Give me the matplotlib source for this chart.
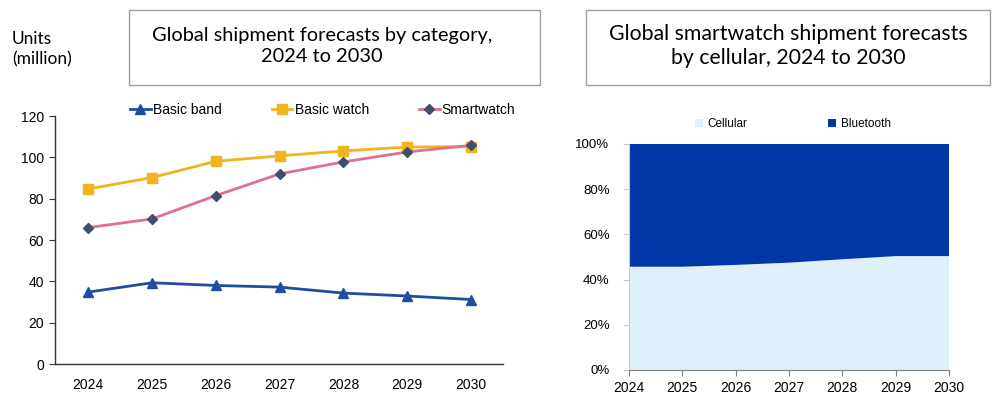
import matplotlib
matplotlib.use("Agg")
import matplotlib.pyplot as plt
from matplotlib.patches import Rectangle
from matplotlib.ticker import PercentFormatter

years = [2024, 2025, 2026, 2027, 2028, 2029, 2030]
basic_band = [34.8, 39.3, 38.0, 37.2, 34.3, 32.9, 31.2]
basic_watch = [84.7, 90.2, 98.1, 100.7, 103.1, 105.0, 105.2]
smartwatch = [66.0, 70.2, 81.5, 92.0, 97.8, 102.6, 105.8]
cellular_share = [45.7, 45.7, 46.5, 47.5, 49.0, 50.4, 50.4]
bluetooth_share = [100 - c for c in cellular_share]

left_title = "Global shipment forecasts by category,\n2024 to 2030"
right_title = "Global smartwatch shipment forecasts\nby cellular, 2024 to 2030"

plt.rcParams['font.family'] = ['Liberation Sans', 'DejaVu Sans']

fig = plt.figure(figsize=(9.92, 3.96), dpi=100)
W, H = 992, 396

def ax_rect(x0, y0, x1, y1):
    return [x0 / W, 1 - y1 / H, (x1 - x0) / W, (y1 - y0) / H]

# ---- Left chart ----
ax1 = fig.add_axes(ax_rect(55, 116, 503, 364))
ax1.plot(years, basic_band, color='#1f4ea0', lw=2, marker='^', ms=7, label='Basic band')
ax1.plot(years, basic_watch, color='#f2b41c', lw=2, marker='s', ms=7, label='Basic watch')
ax1.plot(years, smartwatch, color='#e0708f', lw=2, marker='D', ms=5,
         markerfacecolor='#3d4f6e', markeredgecolor='#3d4f6e', label='Smartwatch')
ax1.set_xlim(2023.48, 2030.5)
ax1.set_ylim(0, 120)
ax1.set_yticks(range(0, 121, 20))
ax1.set_xticks(years)
for s in ['top', 'right']:
    ax1.spines[s].set_visible(False)
for s in ['left', 'bottom']:
    ax1.spines[s].set_color('#333333')
    ax1.spines[s].set_linewidth(1)
ax1.tick_params(axis='y', length=4, labelsize=10, color='#333333', pad=4)
ax1.tick_params(axis='x', length=0, labelsize=10, pad=10)
ax1.legend(loc='lower left', bbox_to_anchor=(0.155, 0.975), ncol=3, frameon=False,
           fontsize=10, handlelength=1.5, handletextpad=0.15, columnspacing=3.6,
           borderaxespad=0)

fig.text(12 / W, 1 - 49 / H, "Units\n(million)", fontsize=12.5, va='center', ha='left',
         family=['Lato', 'DejaVu Sans'], linespacing=1.35)

# Title box left
fig.patches.append(Rectangle((129 / W, 1 - 85 / H), (540 - 129) / W, 75 / H,
                             transform=fig.transFigure, fill=False, ec='#a0a0a0', lw=1))
fig.text((152 + 492) / 2 / W, 1 - 46 / H, left_title, ha='center', va='center',
         fontsize=14.4, family=['Lato', 'DejaVu Sans'], linespacing=1.35)

# ---- Right chart ----
ax2 = fig.add_axes(ax_rect(629, 144, 949, 370))
ax2.stackplot(years, cellular_share, bluetooth_share, colors=['#dff0fb', '#0037a8'],
              labels=['Cellular', 'Bluetooth'])
ax2.set_xlim(2024, 2030)
ax2.set_ylim(0, 100)
ax2.set_yticks(range(0, 101, 20))
ax2.yaxis.set_major_formatter(PercentFormatter(decimals=0))
ax2.set_xticks(years)
for s in ['top', 'right']:
    ax2.spines[s].set_visible(False)
ax2.spines['left'].set_color('#c8c8c8')
ax2.spines['bottom'].set_color('#808080')
ax2.tick_params(axis='y', length=4, labelsize=9.5, color='#c8c8c8', pad=10)
ax2.tick_params(axis='x', length=4, labelsize=10, color='#808080', pad=4)
ax2.legend(loc='lower center', bbox_to_anchor=(0.512, 1.04), ncol=2, frameon=False,
           fontsize=8.5, handlelength=0.7, handleheight=0.7, handletextpad=0.4,
           columnspacing=6.8, borderaxespad=0)

fig.patches.append(Rectangle((586 / W, 1 - 85 / H), (990 - 586) / W, 75 / H,
                             transform=fig.transFigure, fill=False, ec='#a0a0a0', lw=1))
fig.text((609 + 967) / 2 / W, 1 - 46 / H, right_title, ha='center', va='center',
         fontsize=15.3, family=['Lato', 'DejaVu Sans'], linespacing=1.3)

fig.savefig("out.png", dpi=100)
